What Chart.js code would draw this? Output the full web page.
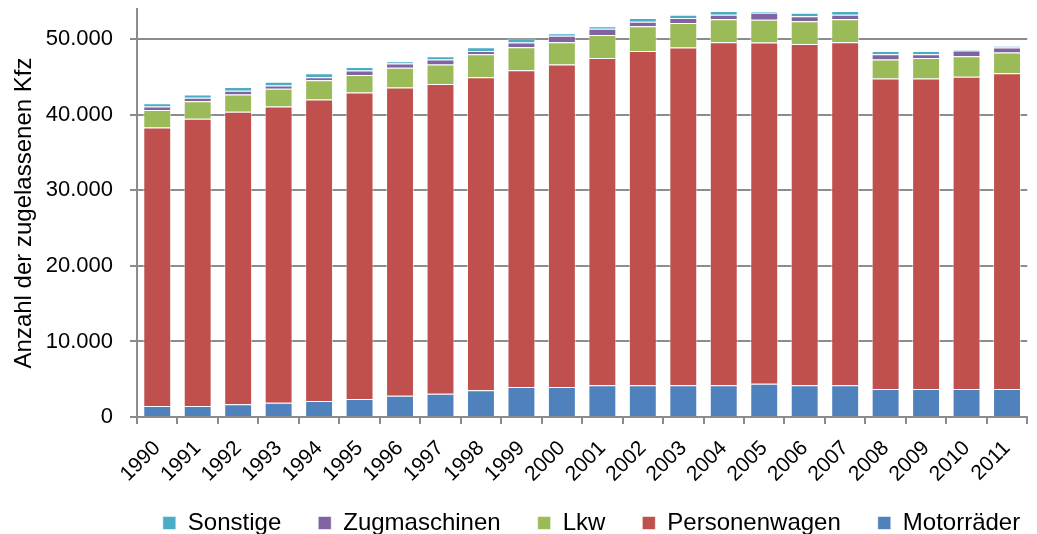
<!DOCTYPE html>
<html>
<head>
<meta charset="utf-8">
<script src="https://cdn.jsdelivr.net/npm/chart.js@4"></script>
<style>
  html, body { margin: 0; padding: 0; background: #fff; }
  #wrap { width: 1037px; height: 534px; }
</style>
</head>
<body>
<div id="wrap"><canvas id="kfzChart"></canvas></div>
<script>
// Daten (Anzahl zugelassener Kfz)
const jahre = ['1990','1991','1992','1993','1994','1995','1996','1997','1998','1999','2000',
               '2001','2002','2003','2004','2005','2006','2007','2008','2009','2010','2011'];
const motorraeder = [1450,1450,1680,1900,2120,2380,2820,3080,3530,3960,3960,4190,4190,4190,4190,4410,4190,4190,3700,3700,3700,3700];
const personenwagen = [36870,38020,38710,39200,39900,40570,40780,41010,41450,41940,42690,43340,44260,44700,45410,45140,45190,45410,41100,41100,41320,41800];
const lkw = [2300,2330,2290,2330,2560,2330,2610,2560,3040,3040,2950,3040,3270,3260,3040,3040,2990,3040,2510,2730,2730,2730];
const zugmaschinen = [480,440,490,440,400,570,570,660,430,610,870,830,600,660,610,910,660,610,710,490,750,660];
const sonstige = [440,440,490,490,520,490,310,440,490,530,310,320,490,440,470,220,470,470,430,430,170,260];
const yTicks = [0, 10000, 20000, 30000, 40000, 50000];

const fontFam = "'Liberation Sans', Arial, sans-serif";
const txt = '#000';
const achse = '#8c8c8c';

function fmt(v) {
  return String(v).replace(/\B(?=(\d{3})+(?!\d))/g, '.');
}

function serie(label, data, farbe) {
  return {
    label: label,
    data: data,
    backgroundColor: farbe,
    borderColor: 'rgba(255,255,255,0.55)',
    borderWidth: 1,
    barPercentage: 0.69,
    categoryPercentage: 1.0
  };
}

// Legende flacher machen und etwas nach rechts/oben schieben (wie im Original)
const legendeLage = {
  id: 'legendeLage',
  beforeLayout(chart) {
    const lg = chart.legend;
    if (lg && !lg._gepatcht) {
      const fit = lg.fit;
      lg.fit = function () { fit.call(this); this.height = 52; };
      lg._gepatcht = true;
    }
  },
  afterLayout(chart) {
    const lg = chart.legend;
    if (!lg) return;
    lg.left += 75.5;
    lg.right += 75.5;
    lg.top -= 8;
  }
};

const ctx = document.getElementById('kfzChart');
new Chart(ctx, {
  type: 'bar',
  data: {
    labels: jahre,
    datasets: [
      serie('Motorräder', motorraeder, '#4F81BD'),
      serie('Personenwagen', personenwagen, '#C0504D'),
      serie('Lkw', lkw, '#9BBB59'),
      serie('Zugmaschinen', zugmaschinen, '#8064A2'),
      serie('Sonstige', sonstige, '#4BACC6')
    ]
  },
  plugins: [legendeLage],
  options: {
    responsive: true,
    maintainAspectRatio: false,
    animation: false,
    layout: { padding: { left: 2, right: 7, top: 9, bottom: 0 } },
    plugins: {
      tooltip: { enabled: false },
      legend: {
        position: 'bottom',
        reverse: true,
        labels: {
          color: txt,
          font: { family: fontFam, size: 24 },
          boxWidth: 13,
          boxHeight: 13,
          padding: 37
        }
      }
    },
    scales: {
      x: {
        stacked: true,
        grid: {
          offset: true,
          drawOnChartArea: false,
          drawTicks: true,
          tickLength: 7,
          color: achse,
          lineWidth: 2
        },
        border: { color: achse, width: 2 },
        ticks: {
          color: txt,
          font: { family: fontFam, size: 21 },
          maxRotation: 45,
          minRotation: 45,
          autoSkip: false,
          padding: 12
        },
        afterFit: function (scale) { scale.height = 65; }
      },
      y: {
        stacked: true,
        min: 0,
        max: 54000,
        afterBuildTicks: function (scale) {
          scale.ticks = yTicks.map(v => ({ value: v }));
        },
        grid: {
          color: achse,
          lineWidth: 2,
          tickLength: 7,
          drawTicks: true
        },
        border: { color: achse, width: 2 },
        ticks: {
          color: txt,
          font: { family: fontFam, size: 22 },
          padding: 17,
          callback: function (v) { return fmt(v); }
        },
        title: {
          display: true,
          text: 'Anzahl der zugelassenen Kfz',
          color: txt,
          font: { family: fontFam, size: 24 },
          padding: { top: 8, bottom: 0 }
        },
        afterFit: function (scale) {
          scale.width = 135;
          scale.paddingTop = 0;
          scale.paddingBottom = 0;
        }
      }
    }
  }
});
</script>
</body>
</html>
